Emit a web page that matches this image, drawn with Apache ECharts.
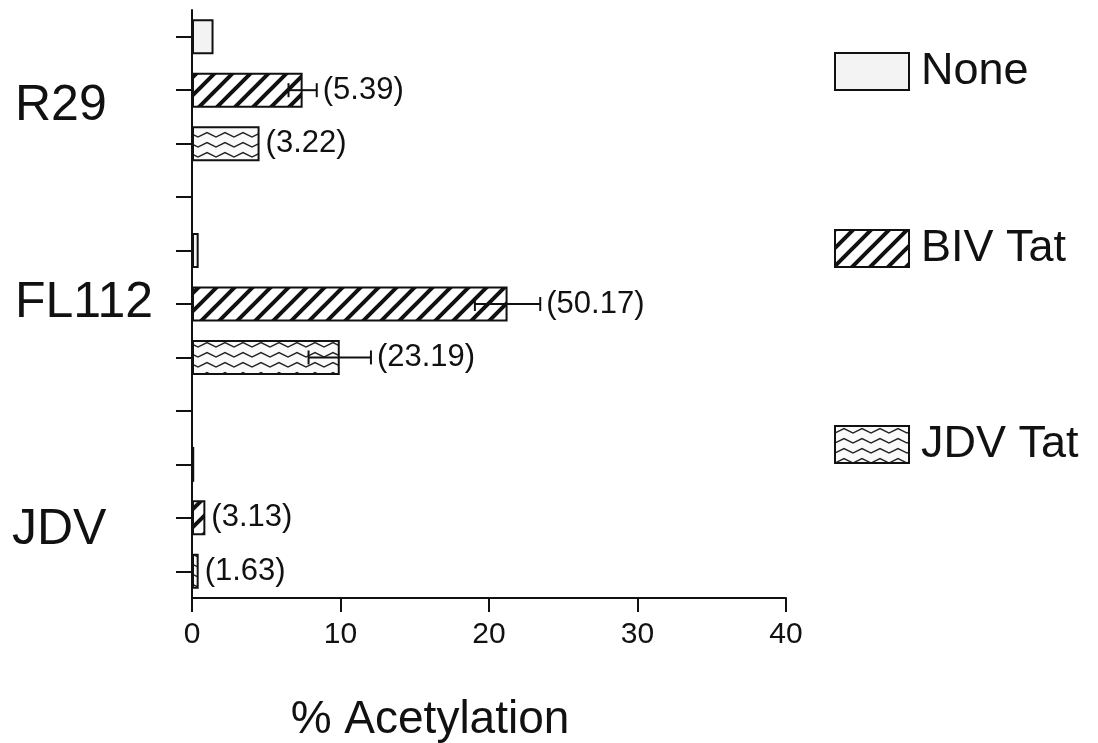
<!DOCTYPE html>
<html>
<head>
<meta charset="utf-8">
<title>% Acetylation</title>
<script src="https://cdn.jsdelivr.net/npm/echarts@6/dist/echarts.min.js"></script>
<style>
html, body { margin: 0; padding: 0; background: #fff; }
#chart { width: 1098px; height: 743px; }
</style>
</head>
<body>
<div id="chart"></div>
<script>
const groups = ["R29", "FL112", "JDV"];
const treatments = ["None", "BIV Tat", "JDV Tat"];
const noneVals = [1.45, 0.45, 0.15];
const bivVals = [7.45, 21.25, 0.9];
const jdvVals = [4.55, 9.95, 0.45];
const bivErr = [0.95, 2.2, 0];
const jdvErr = [0, 2.1, 0];
const bivNotes = ["(5.39)", "(50.17)", "(3.13)"];
const jdvNotes = ["(3.22)", "(23.19)", "(1.63)"];
const xTicks = [0, 10, 20, 30, 40];

const FONT = "'Liberation Sans', Arial, Helvetica, sans-serif";

// 3 bars per group, one empty slot between groups
const slots = [];
groups.forEach((g, gi) => {
  treatments.forEach((t) => slots.push(g + " " + t));
  if (gi < groups.length - 1) slots.push("gap " + gi);
});
const slotOf = (gi, ti) => gi * 4 + ti;

function barData(vals, ti) {
  const arr = slots.map(() => "-");
  vals.forEach((v, gi) => {
    arr[slotOf(gi, ti)] = v;
  });
  return arr;
}

// error bars + numbers in brackets
const notes = [];
const errData = [];
[
  [bivVals, bivErr, bivNotes, 1],
  [jdvVals, jdvErr, jdvNotes, 2],
].forEach(([vals, errs, txt, ti]) => {
  vals.forEach((v, gi) => {
    errData.push([slotOf(gi, ti), v, errs[gi]]);
    notes.push(txt[gi]);
  });
});

function hatchPattern() {
  const c = document.createElement("canvas");
  c.width = 18;
  c.height = 18;
  const ctx = c.getContext("2d");
  ctx.fillStyle = "#fff";
  ctx.fillRect(0, 0, 18, 18);
  ctx.strokeStyle = "#111";
  ctx.lineWidth = 4;
  ctx.beginPath();
  for (let k = -1; k <= 1; k++) {
    ctx.moveTo(k * 18 - 6, 24);
    ctx.lineTo(k * 18 + 24, -6);
  }
  ctx.stroke();
  return c;
}

function wavePattern() {
  const c = document.createElement("canvas");
  c.width = 18;
  c.height = 10;
  const ctx = c.getContext("2d");
  ctx.fillStyle = "#fafafa";
  ctx.fillRect(0, 0, 18, 10);
  ctx.strokeStyle = "#222";
  ctx.lineWidth = 1.5;
  ctx.beginPath();
  ctx.moveTo(-9, 2.5);
  ctx.lineTo(0, 7);
  ctx.lineTo(9, 2.5);
  ctx.lineTo(18, 7);
  ctx.lineTo(27, 2.5);
  ctx.stroke();
  return c;
}

function renderErr(params, api) {
  const slot = api.value(0);
  const mean = api.value(1);
  const err = api.value(2);
  const lo = api.coord([mean - err, slot]);
  const hi = api.coord([mean + err, slot]);
  const st = { stroke: "#111", lineWidth: 2 };
  const children = [];
  if (err > 0) {
    children.push({ type: "line", shape: { x1: lo[0], y1: lo[1], x2: hi[0], y2: hi[1] }, style: st });
    children.push({ type: "line", shape: { x1: lo[0], y1: lo[1] - 7, x2: lo[0], y2: lo[1] + 7 }, style: st });
    children.push({ type: "line", shape: { x1: hi[0], y1: hi[1] - 7, x2: hi[0], y2: hi[1] + 7 }, style: st });
  }
  children.push({
    type: "text",
    x: hi[0] + 6,
    y: hi[1],
    style: {
      text: notes[params.dataIndex],
      fill: "#111",
      font: "31px " + FONT,
      verticalAlign: "middle",
      align: "left",
    },
  });
  return { type: "group", children };
}

const groupLabel = {};
groups.forEach((g, gi) => {
  groupLabel[slotOf(gi, 1)] = g;
});

// one legend per item, the reference spaces them unevenly
const legendTops = [49, 226, 422];
const legends = treatments.map((t, i) => ({
  data: [t],
  orient: "vertical",
  left: 834,
  top: legendTops[i],
  padding: 0,
  itemWidth: 74,
  itemHeight: 37,
  selectedMode: false,
  icon: "rect",
  textStyle: { fontSize: 45, lineHeight: 37, color: "#111", fontFamily: FONT, padding: [0, 0, 0, 7] },
}));

const myChart = echarts.init(document.getElementById("chart"));
const barStyle = { borderColor: "#111", borderWidth: 2 };
const option = {
  animation: false,
  backgroundColor: "#fff",
  textStyle: { fontFamily: FONT, color: "#111" },
  grid: { left: 192, right: 312, top: 10, bottom: 145, outerBoundsMode: "none" },
  legend: legends,
  xAxis: {
    type: "value",
    min: xTicks[0],
    max: xTicks[xTicks.length - 1],
    interval: xTicks[1] - xTicks[0],
    splitLine: { show: false },
    axisLine: { show: true, lineStyle: { color: "#111", width: 2 } },
    axisTick: { show: true, length: 14, lineStyle: { color: "#111", width: 2 } },
    axisLabel: { fontSize: 30, color: "#111", margin: 22, fontFamily: FONT },
    name: "% Acetylation",
    nameLocation: "middle",
    nameGap: 99,
    nameTextStyle: { fontSize: 46, color: "#111", fontFamily: FONT, padding: [0, 118, 0, 0] },
  },
  yAxis: {
    type: "category",
    inverse: true,
    data: slots,
    axisLine: { show: true, lineStyle: { color: "#111", width: 2 } },
    axisTick: { show: true, alignWithLabel: true, interval: 0, length: 16, lineStyle: { color: "#111", width: 2 } },
    axisLabel: {
      interval: 0,
      margin: 25,
      formatter: (value, index) => {
        const g = groupLabel[index];
        if (!g) return "";
        return "{g" + groups.indexOf(g) + "|" + g + "}";
      },
      rich: {
        g0: { fontSize: 50, width: 152, align: "left", color: "#111", fontFamily: FONT, padding: [32, 0, 0, 0] },
        g1: { fontSize: 50, width: 152, align: "left", color: "#111", fontFamily: FONT, padding: [0, 0, 2, 0] },
        g2: { fontSize: 50, width: 155, align: "left", color: "#111", fontFamily: FONT, padding: [24, 0, 0, 0] },
      },
    },
  },
  series: [
    {
      name: "None",
      type: "bar",
      barWidth: 35,
      barGap: "-100%",
      itemStyle: Object.assign({ color: "#f3f3f3" }, barStyle),
      data: barData(noneVals, 0),
    },
    {
      name: "BIV Tat",
      type: "bar",
      barWidth: 35,
      barGap: "-100%",
      itemStyle: Object.assign({ color: { image: hatchPattern(), repeat: "repeat" } }, barStyle),
      data: barData(bivVals, 1),
    },
    {
      name: "JDV Tat",
      type: "bar",
      barWidth: 35,
      barGap: "-100%",
      itemStyle: Object.assign({ color: { image: wavePattern(), repeat: "repeat" } }, barStyle),
      data: barData(jdvVals, 2),
    },
    {
      name: "err",
      type: "custom",
      renderItem: renderErr,
      encode: { x: 1, y: 0 },
      data: errData,
      z: 5,
      silent: true,
    },
  ],
};
option && myChart.setOption(option);
</script>
</body>
</html>
